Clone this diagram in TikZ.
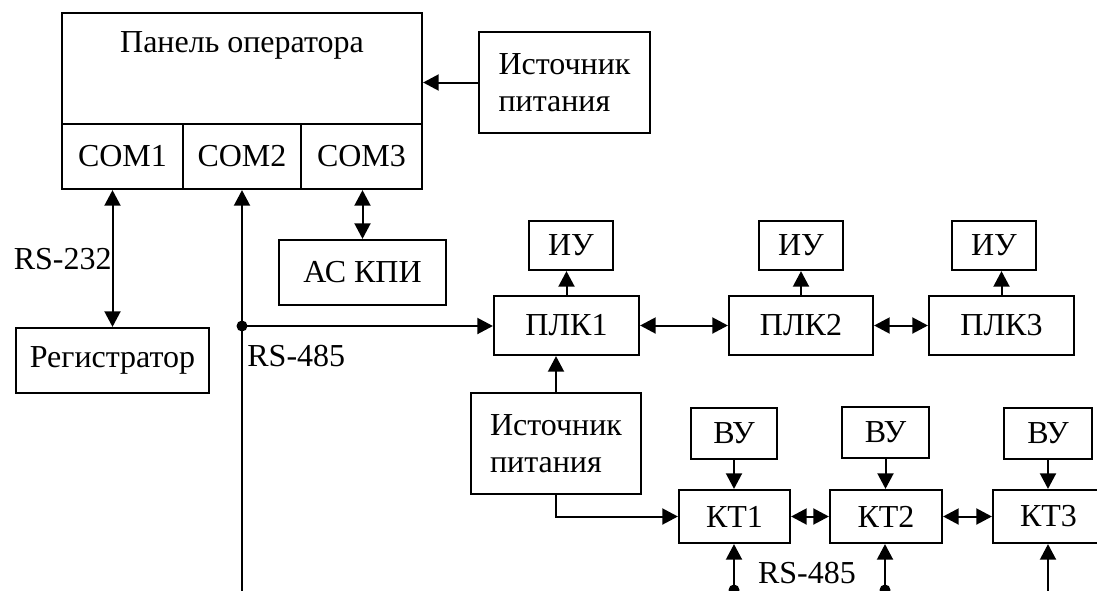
\documentclass[tikz,border=0pt]{standalone}
\usepackage{fontspec}
\setmainfont{Liberation Serif}
\usetikzlibrary{arrows.meta}
\begin{document}
\begin{tikzpicture}[x=0.5pt,y=-0.5pt,
  font=\fontsize{16}{18.5}\selectfont,
  box/.style={draw, line width=1.1pt, inner sep=0pt, align=left},
  con/.style={line width=1pt},
  arr/.style={con,-{Triangle[length=7.8pt,width=8pt]}},
  darr/.style={con,{Triangle[length=7.8pt,width=8pt]}-{Triangle[length=7.8pt,width=8pt]}},
  jdot/.style={circle, fill, inner sep=0pt, minimum size=5.5pt},
  lbl/.style={inner sep=0pt}]
\useasboundingbox (0,0) rectangle (1097,590);
\clip (0,0) rectangle (1097,590);

% operator panel
\node[box, minimum width=180pt, minimum height=88pt] (panel) at (242,101) {};
\node[lbl] (ptitle) at (242,45) {Панель оператора};
\node[box, minimum width=60.5pt, minimum height=32.5pt] (com1) at (122.5,156.5) {COM1};
\node[box, minimum width=59pt, minimum height=32.5pt] (com2) at (242,156.5) {COM2};
\node[box, minimum width=60.5pt, minimum height=32.5pt] (com3) at (361.5,156.5) {COM3};

\node[box, minimum width=85.5pt, minimum height=50.5pt] (src1) at (564.5,82.5) {Источник\\питания};
\node[box, minimum width=96.5pt, minimum height=32.5pt] (reg) at (112.5,360.5) {Регистратор};
\node[box, minimum width=83.5pt, minimum height=32.5pt] (askpi) at (362.5,272.5) {АС КПИ};

% PLCs
\node[box, minimum width=72.5pt, minimum height=29.5pt] (plk1) at (566.5,325.5) {ПЛК1};
\node[box, minimum width=72pt, minimum height=29.5pt] (plk2) at (801,325.5) {ПЛК2};
\node[box, minimum width=72.5pt, minimum height=29.5pt] (plk3) at (1001.5,325.5) {ПЛК3};
\node[box, minimum width=42pt, minimum height=24.5pt] (iu1) at (571,245.5) {ИУ};
\node[box, minimum width=42pt, minimum height=24.5pt] (iu2) at (801,245.5) {ИУ};
\node[box, minimum width=42pt, minimum height=24.5pt] (iu3) at (994,245.5) {ИУ};

% second power source and KT
\node[box, minimum width=85pt, minimum height=50.5pt] (src2) at (556,443.5) {Источник\\питания};
\node[box, minimum width=55.5pt, minimum height=26.5pt] (kt1) at (734.5,516.5) {КТ1};
\node[box, minimum width=56pt, minimum height=26.5pt] (kt2) at (886,516.5) {КТ2};
\node[box, minimum width=55.5pt, minimum height=26.5pt] (kt3) at (1048.5,516.5) {КТ3};
\node[box, minimum width=43pt, minimum height=25.5pt] (vu1) at (734,433.5) {ВУ};
\node[box, minimum width=43.5pt, minimum height=25.5pt] (vu2) at (885.5,432.5) {ВУ};
\node[box, minimum width=44pt, minimum height=25.5pt] (vu3) at (1048,433.5) {ВУ};

% connectors: panel area
\draw[arr] (src1.west) -- (panel.east |- src1.west);
\draw[darr] (reg.north) -- (reg.north |- com1.south);
\draw[darr] (askpi.north) -- (askpi.north |- com3.south);
\coordinate (busbot) at (242,600);
\coordinate (junc) at (242,326);
\draw[arr] (busbot) -- (com2.south);
\node[jdot] (jd) at (junc) {};
\draw[arr] (junc) -- (plk1.west |- junc);
\node[lbl, anchor=east] (rs232) at (112,259.5) {RS-232};
\node[lbl, anchor=west] (rs485a) at (247,356) {RS-485};

% PLC connectors
\draw[darr] (plk1.east) -- (plk2.west);
\draw[darr] (plk2.east) -- (plk3.west);
\draw[arr] (plk1.north) -- (plk1.north |- iu1.south);
\draw[arr] (plk2.north) -- (plk2.north |- iu2.south);
\draw[arr] (plk3.north) -- (plk3.north |- iu3.south);
\draw[arr] (src2.north) -- (src2.north |- plk1.south);

% KT connectors
\draw[arr] (src2.south) |- (kt1.west);
\draw[arr] (vu1.south) -- (vu1.south |- kt1.north);
\draw[arr] (vu2.south) -- (vu2.south |- kt2.north);
\draw[arr] (vu3.south) -- (vu3.south |- kt3.north);
\draw[darr] (kt1.east) -- (kt2.west);
\draw[darr] (kt2.east) -- (kt3.west);
\coordinate (b1) at (734,590);
\coordinate (b2) at (885,590);
\coordinate (b3) at (1048,600);
\node[jdot] (d1) at (b1) {};
\node[jdot] (d2) at (b2) {};
\draw[arr] (b1) -- (b1 |- kt1.south);
\draw[arr] (b2) -- (b2 |- kt2.south);
\draw[arr] (b3) -- (b3 |- kt3.south);
\node[lbl] (rs485b) at (807,573) {RS-485};
\end{tikzpicture}
\end{document}
